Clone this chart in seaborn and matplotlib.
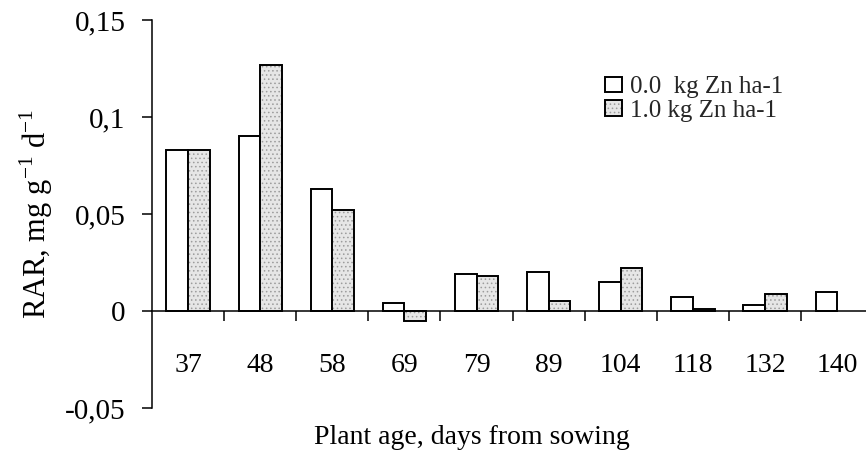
import numpy as np
import pandas as pd
import matplotlib
matplotlib.use("Agg")
import matplotlib.pyplot as plt
import seaborn as sns
from matplotlib.colors import to_rgba

# ---- data ----
days = ["37", "48", "58", "69", "79", "89", "104", "118", "132", "140"]
zn0 = [0.083, 0.090, 0.063, 0.004, 0.019, 0.020, 0.015, 0.007, 0.003, 0.010]
zn1 = [0.083, 0.127, 0.052, -0.005, 0.018, 0.005, 0.022, 0.001, 0.009, np.nan]
series = ["0.0  kg Zn ha-1", "1.0 kg Zn ha-1"]
yticks = [-0.05, 0.0, 0.05, 0.10, 0.15]
ytick_labels = ["-0,05", "0", "0,05", "0,1", "0,15"]

df = pd.DataFrame({
    "day": days * 2,
    "value": zn0 + zn1,
    "series": [series[0]] * len(days) + [series[1]] * len(days),
})

sns.set_theme(style="white")
plt.rcParams["font.family"] = ["Liberation Serif", "DejaVu Serif"]
plt.rcParams["hatch.linewidth"] = 0.6
plt.rcParams["mathtext.fontset"] = "custom"
plt.rcParams["mathtext.rm"] = "Liberation Serif"

fig = plt.figure(figsize=(8.66, 4.66), dpi=100)
ax = fig.add_axes([152 / 866, 1 - 408 / 466, 714 / 866, 388 / 466])

sns.barplot(data=df, x="day", y="value", hue="series", order=days,
            hue_order=series, palette={series[0]: "white", series[1]: "#e6e6e6"},
            edgecolor="black", linewidth=1.4, width=0.6, gap=0,
            errorbar=None, ax=ax)

hatch_col = to_rgba("#9c9c9c")
for p in ax.containers[1]:
    p.set_hatch("....")
    p._hatch_color = hatch_col

ax.set_xlim(-0.5, 9.4)
ax.set_ylim(-0.05, 0.15)

for s in ["top", "right"]:
    ax.spines[s].set_visible(False)
ax.spines["bottom"].set_position(("data", 0))
for s in ["left", "bottom"]:
    ax.spines[s].set_color("black")
    ax.spines[s].set_linewidth(1.1)

# x ticks: boundaries as major ticks, labels at category centers
ax.set_xticks([i + 0.5 for i in range(len(days) - 1)])
ax.set_xticklabels([])
ax.set_xticks(range(len(days)), minor=True)
ax.set_xticklabels(days, minor=True)
ax.tick_params(axis="x", which="major", direction="out", length=7, width=1.1,
               color="black", bottom=True)
ax.tick_params(axis="x", which="minor", length=0, pad=30, labelsize=20,
               labelcolor="black", bottom=True)

ax.set_yticks(yticks)
ax.set_yticklabels(ytick_labels)
ax.tick_params(axis="y", direction="out", length=7, width=1.1, color="black",
               left=True, pad=12, labelsize=21, labelcolor="black")

ax.set_ylabel(r"RAR, mg g$^{\mathregular{-1}}$ d$^{\mathregular{-1}}$", fontsize=22, color="black")
ax.yaxis.set_label_coords(-0.136, 0.5)
ax.set_xlabel("Plant age, days from sowing", fontsize=20, color="black")
ax.xaxis.set_label_coords(0.448, -0.045)

leg = ax.legend(loc="upper left", bbox_to_anchor=(0.634, 0.855), frameon=False,
                fontsize=18, handlelength=0.7, handleheight=0.6, handletextpad=0.3,
                labelspacing=0.05, borderpad=0, borderaxespad=0)
for h in leg.legend_handles:
    h.set_edgecolor("black")
    h.set_linewidth(1.4)
leg.legend_handles[1].set_hatch("....")
leg.legend_handles[1]._hatch_color = hatch_col

fig.savefig("out.png", dpi=100)
